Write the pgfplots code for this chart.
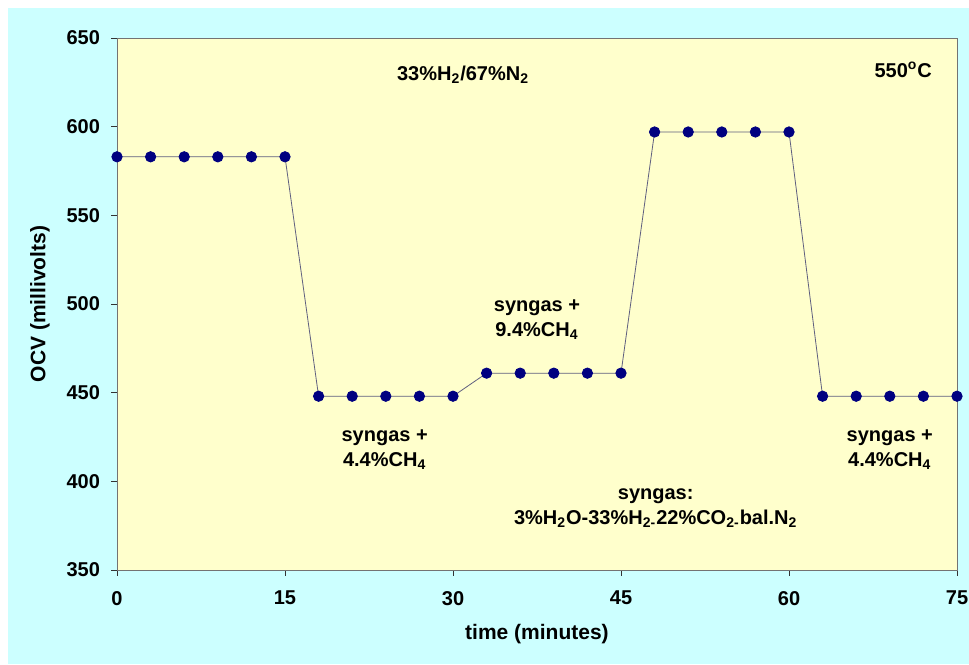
\documentclass[border=0pt]{standalone}
\usepackage{fontspec}
\setmainfont{Liberation Sans}
\usepackage{pgfplots}
\pgfplotsset{compat=1.18}
\definecolor{bgcyan}{HTML}{CCFFFF}
\definecolor{plotyel}{HTML}{FFFFCC}
\definecolor{navyb}{HTML}{000080}
\definecolor{linegray}{HTML}{5F5F7F}
\begin{document}
\begin{tikzpicture}
\useasboundingbox (0,0) rectangle (484.5pt,332pt);
\fill[bgcyan] (4pt,0) rectangle (484.5pt,328pt);
\begin{axis}[
  at={(58.5pt,47pt)}, anchor=south west,
  scale only axis, width=420pt, height=266pt,
  xmin=0, xmax=75, ymin=350, ymax=650,
  xtick={0,15,...,75}, ytick={350,400,...,650},
  tick pos=left, tick align=outside,
  major tick length=3pt,
  tick style={draw=black!80, thin},
  axis line style={draw=gray!90!black},
  axis background/.style={fill=plotyel},
  clip=false,
  /pgf/number format/assume math mode=true,
  ticklabel style={font=\bfseries\fontsize{10}{12}\selectfont},
  xticklabel style={yshift=-4pt},
  yticklabel style={xshift=-2pt},
  label style={font=\bfseries\fontsize{10.5}{12}\selectfont},
  xlabel={time (minutes)},
  ylabel={OCV (millivolts)},
  xlabel style={at={(axis description cs:0.5,-0.1203)}, anchor=center},
  ylabel style={at={(axis description cs:-0.0917,0.5)}, anchor=center},
]
\addplot[color=linegray, thin, mark=*, mark size=2.6pt,
  mark options={draw=navyb, fill=navyb}] coordinates {
  (0,583) (3,583) (6,583) (9,583) (12,583) (15,583)
  (18,448) (21,448) (24,448) (27,448) (30,448)
  (33,461) (36,461) (39,461) (42,461) (45,461)
  (48,597) (51,597) (54,597) (57,597) (60,597)
  (63,448) (66,448) (69,448) (72,448) (75,448)
};
\begin{scope}[every node/.style={align=center, font=\bfseries\fontsize{10}{12.5}\selectfont}]
\node at (axis cs:30.9,629) {33\%H\textsubscript{2}/67\%N\textsubscript{2}};
\node at (axis cs:70.2,632) {550\textsuperscript{o}C};
\node at (axis cs:23.9,417.7) {syngas +\\4.4\%CH\textsubscript{4}};
\node at (axis cs:37.5,491) {syngas +\\9.4\%CH\textsubscript{4}};
\node at (axis cs:69.0,417.7) {syngas +\\4.4\%CH\textsubscript{4}};
\node at (axis cs:48.1,385) {syngas:\\3\%H\textsubscript{2}O-33\%H\textsubscript{2-}22\%CO\textsubscript{2-}bal.N\textsubscript{2}};
\end{scope}
\end{axis}
\end{tikzpicture}
\end{document}
